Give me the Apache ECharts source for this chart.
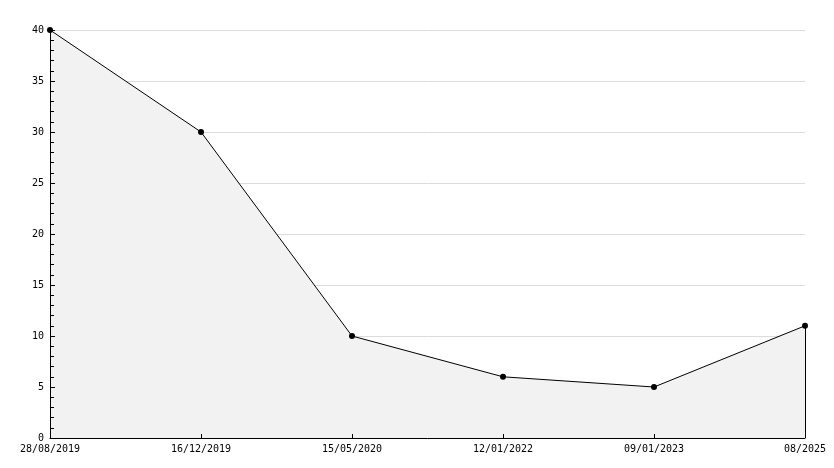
<!DOCTYPE html>
<html><head><meta charset="utf-8">
<script src="https://cdn.jsdelivr.net/npm/echarts@6/dist/echarts.min.js"></script>
<style>html,body{margin:0;padding:0;background:#fff}#c{width:834px;height:468px}</style>
</head><body><div id="c"></div>
<script>
const categories = ['28/08/2019','16/12/2019','15/05/2020','12/01/2022','09/01/2023','08/2025'];
const values = [40, 30, 10, 6, 5, 11];
const yTicks = { min: 0, max: 40, interval: 5 };

const chart = echarts.init(document.getElementById('c'), null, {renderer:'canvas'});
const font = 'DejaVu Sans Mono';
chart.setOption({
  animation: false,
  grid: { left: 50, right: 29, top: 30, bottom: 30 },
  xAxis: {
    type: 'category', data: categories, boundaryGap: false, z: 10,
    axisLine: { lineStyle: { color: '#000', width: 1 } },
    axisTick: { inside: true, length: 4, lineStyle: { color: '#000' } },
    axisLabel: { color: '#000', fontFamily: font, fontSize: 10, margin: 6, interval: 0 },
    splitLine: { show: false }
  },
  yAxis: [{
    type: 'value', min: yTicks.min, max: yTicks.max, interval: yTicks.interval, z: 0,
    axisLine: { show: false }, axisTick: { show: false }, axisLabel: { show: false },
    splitLine: { show: true, lineStyle: { color: '#dcdcdc', width: 1 } }
  }, {
    type: 'value', position: 'left', min: yTicks.min, max: yTicks.max, interval: yTicks.interval, z: 10,
    axisLine: { show: true, lineStyle: { color: '#000', width: 1 } },
    axisTick: { show: true, inside: true, length: 5, lineStyle: { color: '#000' } },
    minorTick: { show: true, splitNumber: 5, length: 4, lineStyle: { color: '#000' } },
    axisLabel: { color: '#000', fontFamily: font, fontSize: 10, margin: 6 },
    splitLine: { show: false }
  }],
  series: [{
    type: 'line', data: values, yAxisIndex: 0,
    symbol: 'circle', symbolSize: 6,
    itemStyle: { color: '#000' },
    lineStyle: { color: '#000', width: 1 },
    areaStyle: { color: '#f2f2f2', opacity: 1 },
    markLine: {
      silent: true, symbol: 'none', label: { show: false },
      lineStyle: { color: '#000', width: 1, type: 'solid' },
      data: [[ { coord: [categories.length - 1, 0] }, { coord: [categories.length - 1, values[values.length - 1]] } ]]
    }
  }]
});
</script></body></html>
